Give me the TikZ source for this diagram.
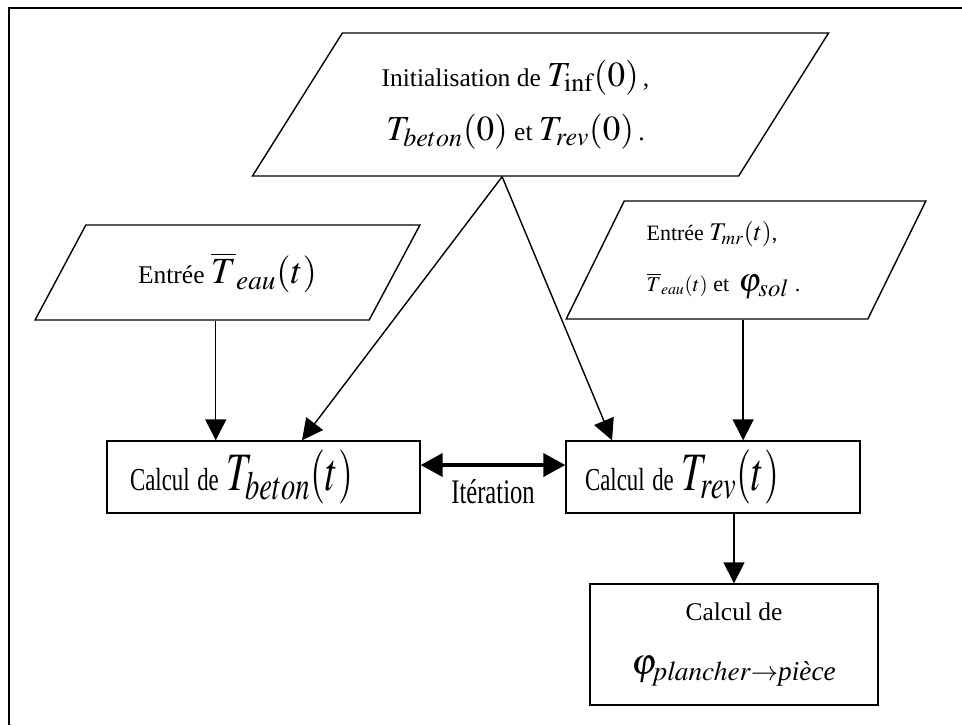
\documentclass[tikz,border=0pt]{standalone}
\usepackage{amsmath}
\usepackage{mathptmx}
\usepackage[no-math]{fontspec}
\setmainfont{Liberation Serif}
\usepackage{graphicx}
\usetikzlibrary{
    arrows.meta,     % For arrow tips
    shapes.geometric,% For the parallelograms
    calc,            % For coordinate calculations
    positioning      % For label positioning
}

% math set at a given size
\newcommand{\msz}[2]{{\fontsize{#1}{#1}\selectfont$#2$}}
% text stretched upwards, as in the middle row
\newcommand{\tallt}[1]{\scalebox{1}[1.4]{#1}}

\begin{document}
\begin{tikzpicture}[
    x=0.02cm, y=-0.02cm,
    >={Triangle[length=0.42cm, width=0.42cm]}, % Default arrow tip
    line width=0.8pt,
    inbox/.style={draw, trapezium, trapezium stretches=true, inner sep=0pt, align=center}, % Input parallelograms
    calcbox/.style={draw, rectangle, minimum height=1.44cm, inner ysep=0pt, align=left}, % Calculation boxes
    arr/.style={->}, % Plain arrows
    iterarr/.style={{Triangle[length=0.44cm, width=0.46cm]}-{Triangle[length=0.44cm, width=0.46cm]}, line width=2.2pt}
]

    % Fix the picture size
    \useasboundingbox (0,0) rectangle (962,725);

    % Outer frame (top and left only)
    \draw[line width=1pt] (962,8) -- (9,8) -- (9,725);

    % Initialisation
    \node[inbox, trapezium left angle=51.2, trapezium right angle=128.8,
          minimum width=11.54cm, minimum height=2.86cm,
          font=\fontsize{14.5}{17}\selectfont] (init) at (540.5,104.5)
        {Initialisation de \msz{20}{T_{\mathrm{inf}}(0)}\,,\hspace*{1cm}\\[10pt]
         \msz{20}{T_{beton}(0)} et \msz{20}{T_{rev}(0)}\,.\hspace*{1cm}};

    % Inputs
    \node[inbox, trapezium left angle=51.7, trapezium right angle=128.3,
          minimum width=7.7cm, minimum height=1.9cm,
          font=\fontsize{14.5}{17}\selectfont] (eauin) at (227.5,272.5)
        {Entrée \msz{21}{\overline{T}_{eau}(t)}};
    \node[inbox, trapezium left angle=58.6, trapezium right angle=121.4,
          minimum width=7.2cm, minimum height=2.36cm, align=left,
          font=\fontsize{12.5}{14}\selectfont] (mrin) at (746,260)
        {Entrée \msz{14.5}{T_{mr}(t)},\\[15pt]
         \msz{12}{\overline{T}_{eau}(t)}\ et\ \,\msz{19}{\varphi_{sol}}~.\hspace*{0.9cm}};

    % Calculations
    \node[calcbox, minimum width=6.26cm, inner xsep=0.46cm, text width=5.34cm,
          font=\fontsize{13}{15}\selectfont] (beton) at (263.5,477)
        {\raisebox{-5pt}{\tallt{Calcul de \msz{22}{T_{beton}(t)}}}};
    \node[calcbox, minimum width=5.88cm, inner xsep=0.38cm, text width=5.12cm,
          font=\fontsize{13}{15}\selectfont] (rev) at (713,477)
        {\raisebox{-5pt}{\tallt{Calcul de \msz{22}{T_{rev}(t)}}}};
    \node[draw, rectangle, minimum width=5.76cm, minimum height=2.42cm, align=center,
          font=\fontsize{14.5}{17}\selectfont] (flux) at (734,644.5)
        {Calcul de\\[14pt]
         \msz{21}{\varphi_{\mathit{plancher}\rightarrow\textit{pièce}}}};

    % Connection points
    \coordinate (initout) at ([xshift=0.14cm]init.bottom side);
    \coordinate (eauout) at ([xshift=0.28cm]eauin.bottom side);
    \coordinate (mrout) at ([xshift=0.53cm]mrin.bottom side);

    % Arrows
    \draw[arr] (eauout) -- (eauout |- beton.north);
    \draw[arr] (initout) -- ([xshift=0.77cm]beton.north);
    \draw[arr] (initout) -- ([xshift=-2.02cm]rev.north);
    \draw[arr] (mrout) -- (mrout |- rev.north);
    \draw[arr] (flux.north |- rev.south) -- (flux.north);

    % Iteration
    \draw[iterarr] ([yshift=0.24cm]beton.east) -- ([yshift=0.24cm]rev.west);
    \node[font=\fontsize{14}{16}\selectfont] (iter) at ($(beton.east)!0.5!(rev.west)+(0,15)$) {\tallt{Itération}};
\end{tikzpicture}
\end{document}
